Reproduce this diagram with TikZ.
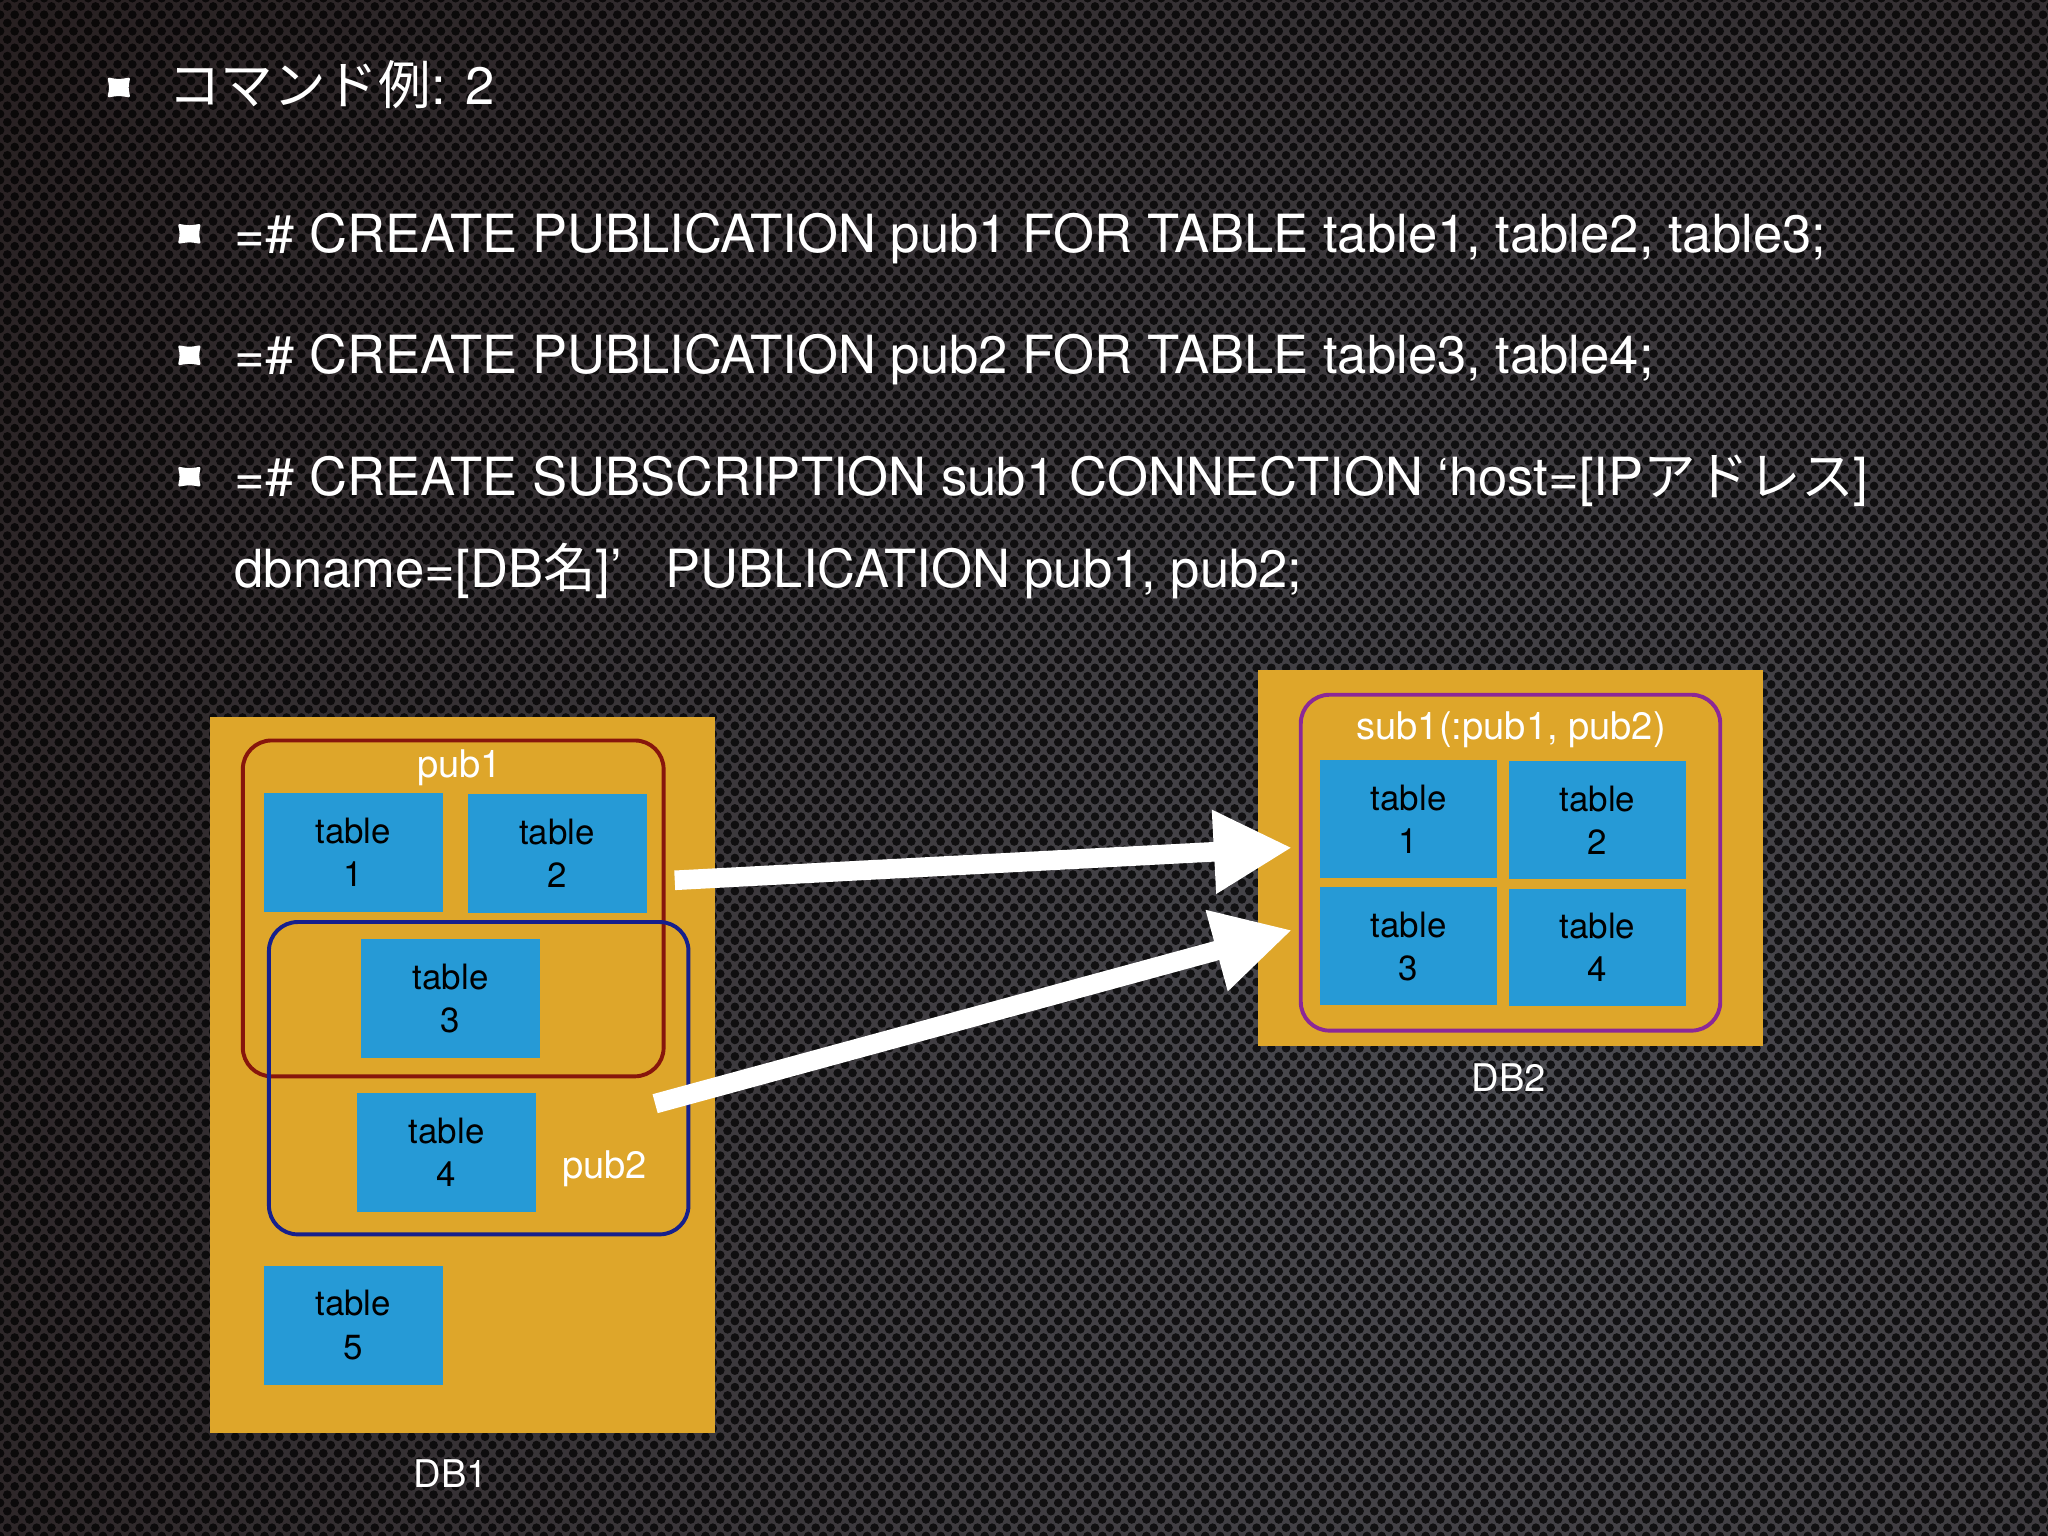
\documentclass[tikz,border=0pt]{standalone}
\usepackage{fontspec}
\setmainfont{TeX Gyre Heros}
\newfontfamily\jp{Noto Sans CJK JP}
\usepackage{tikz}
\usetikzlibrary{arrows.meta,positioning,patterns}
\definecolor{bgdark}{RGB}{30,20,20}
\definecolor{bgmid}{RGB}{76,76,82}
\definecolor{dbgold}{RGB}{222,166,42}
\definecolor{tblblue}{RGB}{38,154,214}
\definecolor{pubred}{RGB}{135,22,12}
\definecolor{pubnavy}{RGB}{22,32,140}
\definecolor{subpurple}{RGB}{140,40,150}
% perforated metal
\pgfdeclarepatternformonly{holes}{\pgfpoint{-1pt}{-1pt}}{\pgfpoint{4.2pt}{4.6pt}}{\pgfpoint{3.2pt}{3.6pt}}{%
    \pgfpathcircle{\pgfpoint{0pt}{0pt}}{0.95pt}%
    \pgfpathcircle{\pgfpoint{1.6pt}{1.8pt}}{0.95pt}%
    \pgfusepath{fill}}

\begin{document}
\begin{tikzpicture}[
    x=0.01cm, y=-0.01cm,
    dbbox/.style={rectangle, fill=dbgold, inner sep=0},
    tbl/.style={rectangle, fill=tblblue, inner sep=0, minimum width=1.37cm, minimum height=0.91cm,
        align=center, text=black, font=\fontsize{7.6}{9.4}\selectfont},
    grp/.style={rectangle, rounded corners=0.22cm, line width=0.03cm, inner sep=0},
    cmd/.style={anchor=base west, inner sep=0, text=white, font=\fontsize{11.45}{13}\selectfont},
    lbl/.style={inner sep=0, text=white, font=\fontsize{8.3}{10}\selectfont},
    flow/.style={draw=white, line width=0.15cm, -{Triangle[length=0.6cm, width=0.6cm]}},
    bulletmark/.pic={\fill[white, draw=white, line width=0.02cm, line join=round]
        (-7.5,-6.5) .. controls (0,-5.2) .. (7.5,-6.5) .. controls (6.2,0) .. (7.5,6.5)
        .. controls (0,5.2) .. (-7.5,6.5) .. controls (-6.2,0) .. cycle;}
]
% background
\fill[bgdark] (0,0) rectangle (1568,1176);
\begin{scope}
    \clip (0,0) rectangle (1568,1176);
    \shade[inner color=bgmid, outer color=bgdark] (1150,850) circle (1800);
    \fill[pattern=holes, pattern color=black, fill opacity=0.75] (0,0) rectangle (1568,1176);
\end{scope}

% commands
\pic at (91,67) {bulletmark};
\node[cmd] (title) at (128,80) {{\jp コマンド例}: 2};
\pic at (145,179) {bulletmark};
\node[cmd] (cmd1) at (179,193) {=\# CREATE PUBLICATION pub1 FOR TABLE table1, table2, table3;};
\pic at (145,272) {bulletmark};
\node[cmd] (cmd2) at (179,286) {=\# CREATE PUBLICATION pub2 FOR TABLE table3, table4;};
\pic at (145,365) {bulletmark};
\node[cmd] (cmd3) at (179,379) {=\# CREATE SUBSCRIPTION sub1 CONNECTION ‘host=[IP{\jp アドレス}]};
\node[cmd] (cmd4) at (179,450) {dbname=[DB{\jp 名}]’\ \ \ PUBLICATION pub1, pub2;};

% DB1
\node[dbbox, minimum width=3.86cm, minimum height=5.48cm] (db1) at (354,823) {};
\node[tbl] (t1) at (270.5,652.5) {table\\1};
\node[tbl] (t2) at (426.5,653.5) {table\\2};
\node[tbl] (t3) at (345,764.5) {table\\3};
\node[tbl] (t4) at (342,882.5) {table\\4};
\node[tbl] (t5) at (270.5,1014.5) {table\\5};
\node[grp, draw=pubred, minimum width=3.22cm, minimum height=2.57cm] (pub1) at (347,695.5) {};
\node[grp, draw=pubnavy, minimum width=3.21cm, minimum height=2.39cm] (pub2) at (366.5,825.5) {};
\node[lbl] (pub1lbl) at (352,588) {pub1};
\node[lbl] (pub2lbl) at (463,895) {pub2};
\node[lbl] (db1lbl) at (345,1128) {DB1};

% DB2
\node[dbbox, minimum width=3.87cm, minimum height=2.88cm] (db2) at (1156.5,657) {};
\node[grp, draw=subpurple, minimum width=3.21cm, minimum height=2.57cm] (sub1) at (1156.5,660.5) {};
\node[lbl] (sub1lbl) at (1157,559) {sub1(:pub1, pub2)};
\node[tbl, minimum width=1.35cm, minimum height=0.9cm] (s1) at (1078.5,627) {table\\1};
\node[tbl, minimum width=1.35cm, minimum height=0.9cm] (s2) at (1223,628) {table\\2};
\node[tbl, minimum width=1.35cm, minimum height=0.9cm] (s3) at (1078.5,724.5) {table\\3};
\node[tbl, minimum width=1.35cm, minimum height=0.9cm] (s4) at (1223,725.5) {table\\4};
\node[lbl] (db2lbl) at (1155,825) {DB2};

% replication
\draw[flow] ([xshift=0.07cm, yshift=0.215cm]pub1.east) -- ([xshift=-0.05cm, yshift=0.115cm]sub1.west);
\draw[flow] ([xshift=-0.27cm, yshift=-0.195cm]pub2.east) -- ([xshift=-0.05cm, yshift=-0.515cm]sub1.west);

\end{tikzpicture}
\end{document}
